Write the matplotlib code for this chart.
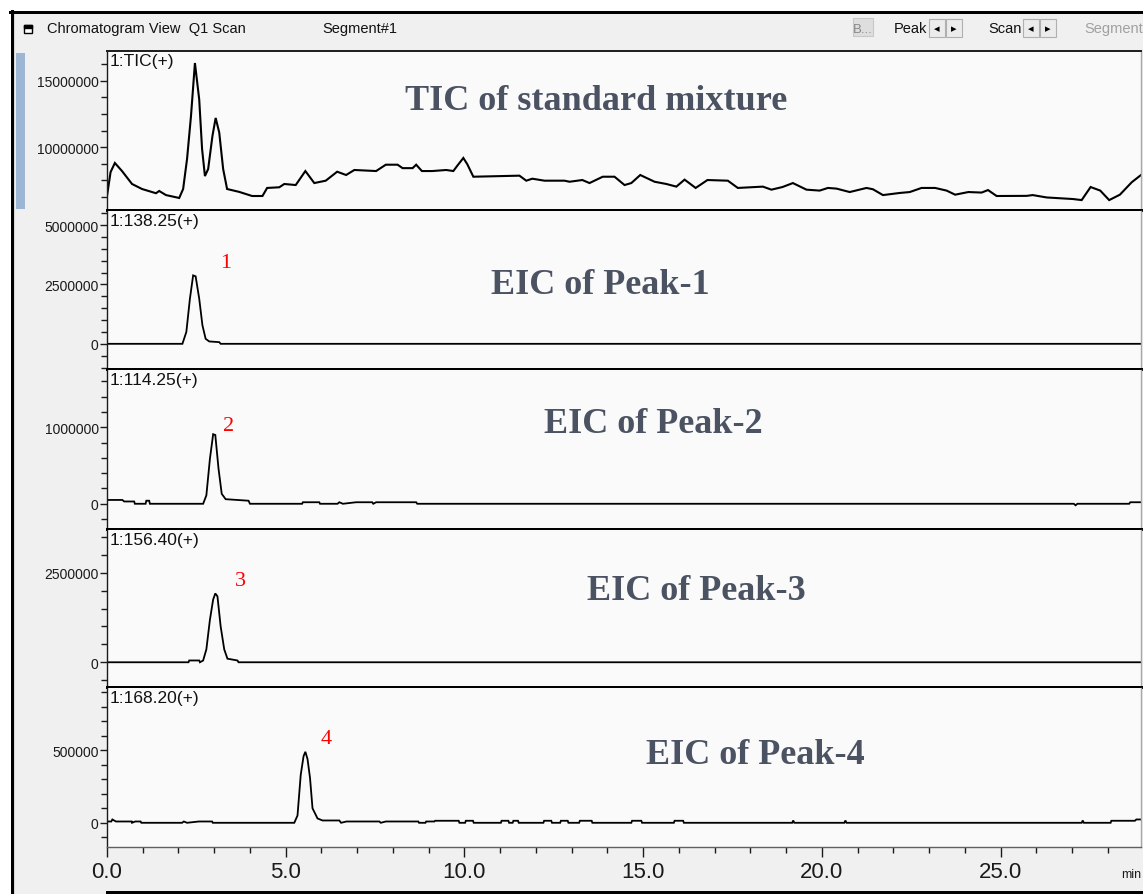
import matplotlib
matplotlib.use('Agg')
import matplotlib.pyplot as plt
from matplotlib.patches import Rectangle
from matplotlib.lines import Line2D
from matplotlib.ticker import MultipleLocator, FixedLocator


W, H = 1143, 895
SANS = ['Liberation Sans', 'DejaVu Sans']
SERIF = ['Liberation Serif', 'DejaVu Serif']
TITLE_COLOR = '#4b5362'
GRAY_BG = '#f0f0f0'

# --- data (time in min, intensity in millions of counts) ---
tic_points = [
    (0.0, 6.29), (0.1, 8.1), (0.22, 8.79), (0.42, 8.18), (0.7, 7.2), (0.98, 6.82),
    (1.37, 6.5), (1.46, 6.67), (1.65, 6.36), (2.02, 6.14), (2.13, 6.82), (2.24, 9.1),
    (2.35, 12.35), (2.46, 16.36), (2.58, 13.6), (2.66, 9.85), (2.74, 7.8), (2.83, 8.33),
    (2.95, 10.83), (3.04, 12.2), (3.14, 11.1), (3.25, 8.33), (3.36, 6.82), (3.7, 6.6),
    (4.06, 6.29), (4.35, 6.29), (4.48, 6.9), (4.82, 6.95), (4.96, 7.2), (5.28, 7.12),
    (5.55, 8.18), (5.8, 7.27), (6.12, 7.45), (6.44, 8.13), (6.69, 7.88), (6.92, 8.26),
    (7.53, 8.18), (7.8, 8.66), (8.13, 8.66), (8.27, 8.4), (8.55, 8.4), (8.65, 8.66),
    (8.81, 8.18), (9.1, 8.18), (9.49, 8.26), (9.69, 8.18), (9.8, 8.58), (9.97, 9.17),
    (10.08, 8.7), (10.25, 7.75), (11.54, 7.83), (11.73, 7.45), (11.9, 7.6), (12.24, 7.45),
    (12.8, 7.45), (12.94, 7.37), (13.3, 7.5), (13.5, 7.27), (13.87, 7.75), (14.2, 7.75),
    (14.48, 7.12), (14.67, 7.27), (14.92, 7.88), (15.32, 7.37), (15.65, 7.2), (15.93, 7.0),
    (16.16, 7.53), (16.47, 6.9), (16.8, 7.5), (17.37, 7.45), (17.65, 6.9), (18.35, 7.0),
    (18.59, 6.77), (18.9, 6.97), (19.19, 7.27), (19.57, 6.77), (19.94, 6.7), (20.17, 6.9),
    (20.41, 6.85), (20.78, 6.59), (21.25, 6.9), (21.43, 6.8), (21.71, 6.36), (22.18, 6.52),
    (22.46, 6.59), (22.79, 6.9), (23.17, 6.9), (23.49, 6.7), (23.73, 6.39), (24.1, 6.59),
    (24.47, 6.55), (24.65, 6.74), (24.89, 6.29), (25.73, 6.3), (25.9, 6.36), (26.29, 6.18),
    (27.03, 6.06), (27.27, 5.98), (27.52, 6.97), (27.79, 6.7), (28.04, 5.98), (28.34, 6.39),
    (28.67, 7.33), (28.93, 7.88),
]

eic1_points = [
    (0.0, 0.0), (2.11, 0.0), (2.22, 0.5), (2.32, 1.9), (2.41, 2.88), (2.48, 2.84),
    (2.58, 1.9), (2.67, 0.78), (2.76, 0.21), (2.86, 0.1), (3.14, 0.07), (3.18, 0.0),
    (28.93, 0.0),
]

eic2_points = [
    (0.0, 0.05), (0.43, 0.05), (0.48, 0.03), (0.76, 0.03), (0.78, 0.0), (1.08, 0.0),
    (1.1, 0.04), (1.18, 0.04), (1.2, 0.0), (2.69, 0.0), (2.78, 0.11), (2.88, 0.59),
    (2.97, 0.91), (3.03, 0.9), (3.12, 0.46), (3.21, 0.13), (3.32, 0.06), (3.96, 0.04),
    (4.0, 0.0), (5.46, 0.0), (5.48, 0.02), (5.94, 0.02), (5.96, 0.0), (6.45, 0.0),
    (6.5, 0.02), (6.6, 0.0), (6.97, 0.02), (7.42, 0.02), (7.45, 0.0), (7.53, 0.02),
    (8.65, 0.02), (8.68, 0.0), (27.05, 0.0), (27.1, -0.02), (27.15, 0.0), (28.6, 0.0),
    (28.63, 0.02), (28.93, 0.02),
]

eic3_points = [
    (0.0, 0.0), (2.28, 0.0), (2.3, 0.05), (2.58, 0.05), (2.6, 0.0), (2.69, 0.05),
    (2.78, 0.36), (2.88, 1.19), (2.97, 1.75), (3.03, 1.92), (3.09, 1.84), (3.18, 1.0),
    (3.28, 0.36), (3.37, 0.1), (3.65, 0.05), (3.68, 0.0), (28.93, 0.0),
]

eic4_points = [
    (0.0, 0.009), (0.12, 0.009), (0.15, 0.023), (0.25, 0.009), (0.69, 0.009), (0.7, 0.0),
    (0.79, 0.009), (0.94, 0.009), (0.96, 0.0), (2.1, 0.0), (2.15, 0.009), (2.24, 0.0),
    (2.57, 0.009), (2.94, 0.009), (2.96, 0.0), (5.24, 0.0), (5.33, 0.05), (5.42, 0.33),
    (5.5, 0.46), (5.55, 0.49), (5.61, 0.44), (5.68, 0.31), (5.75, 0.1), (5.89, 0.03),
    (6.03, 0.016), (6.5, 0.016), (6.55, 0.0), (6.7, 0.009), (7.62, 0.009), (7.66, 0.0),
    (7.8, 0.009), (8.71, 0.009), (8.73, 0.0), (8.91, 0.0), (8.93, 0.009), (9.16, 0.009),
    (9.18, 0.014), (9.84, 0.014), (9.86, 0.0), (10.02, 0.0), (10.04, 0.014), (10.24, 0.014),
    (10.26, 0.0), (11.02, 0.0), (11.04, 0.014), (11.23, 0.014), (11.25, 0.0), (11.35, 0.0),
    (11.37, 0.014), (11.5, 0.014), (11.52, 0.0), (12.21, 0.0), (12.23, 0.014), (12.43, 0.014),
    (12.45, 0.0), (12.68, 0.0), (12.7, 0.014), (12.89, 0.014), (12.91, 0.0), (13.21, 0.0),
    (13.23, 0.014), (13.56, 0.014), (13.58, 0.0), (14.67, 0.0), (14.69, 0.014), (14.95, 0.014),
    (14.97, 0.0), (15.86, 0.0), (15.88, 0.014), (16.12, 0.014), (16.14, 0.0), (19.17, 0.0),
    (19.2, 0.016), (19.23, 0.0), (20.63, 0.0), (20.66, 0.016), (20.69, 0.0), (27.27, 0.0),
    (27.3, 0.016), (27.33, 0.0), (28.08, 0.0), (28.1, 0.014), (28.76, 0.014), (28.8, 0.023),
    (28.93, 0.023),
]

traces = [tic_points, eic1_points, eic2_points, eic3_points, eic4_points]
trace_names = ['1:TIC(+)', '1:138.25(+)', '1:114.25(+)', '1:156.40(+)', '1:168.20(+)']
titles = ['TIC of standard mixture', 'EIC of Peak-1', 'EIC of Peak-2',
          'EIC of Peak-3', 'EIC of Peak-4']
peak_labels = ['', '1', '2', '3', '4']

# y axis ranges and ticks (millions)
y_ranges = [(5.23, 17.27), (-1.06, 5.59), (-0.33, 1.75), (-0.69, 3.69), (-0.167, 0.93)]
y_major = [[10.0, 15.0], [0.0, 2.5, 5.0], [0.0, 1.0], [0.0, 2.5], [0.0, 0.5]]
y_minor = [1.25, 0.5, 0.2, 0.5, 0.1]

x_max = 28.93
x_ticks = [0, 5, 10, 15, 20, 25]

# --- layout, in pixels of the 1143x895 screenshot ---
panel_px = [(52, 211), (212, 370), (371, 530), (531, 688), (689, 848)]
title_px = [(596, 102), (600, 286), (653, 425), (696, 592), (755, 755)]
peak_px = [None, (226, 264), (229, 427), (240, 582), (326, 740)]
PLOT_LEFT, PLOT_RIGHT = 107, 1141


def fx(px):
    return px / W


def fy(py):
    return 1 - py / H


def px2pt(px):
    return px * 0.72


fig = plt.figure(figsize=(W / 100, H / 100), dpi=100)
fig.patch.set_facecolor('white')

# window background and frame
fig.patches.append(Rectangle((fx(12), 0), fx(W - 12), fy(12), transform=fig.transFigure,
                             facecolor=GRAY_BG, edgecolor='none', zorder=-10))
fig.lines.append(Line2D([fx(10), 1], [fy(13), fy(13)], transform=fig.transFigure,
                        color='black', lw=px2pt(3), zorder=5))
fig.lines.append(Line2D([fx(11.5), fx(11.5)], [0, fy(12)], transform=fig.transFigure,
                        color='black', lw=px2pt(3), zorder=5))
fig.lines.append(Line2D([fx(14), fx(14)], [0, fy(15)], transform=fig.transFigure,
                        color='#d8d8d8', lw=px2pt(1), zorder=-5))
fig.patches.append(Rectangle((fx(16), fy(210)), fx(9), fy(54) - fy(210),
                             transform=fig.transFigure, facecolor='#9db6d3',
                             edgecolor='none', zorder=-5))

# header bar
fig.patches.append(Rectangle((fx(24), fy(34)), fx(8), fy(26) - fy(34), transform=fig.transFigure,
                             facecolor='white', edgecolor='black', lw=1, zorder=-5))
fig.patches.append(Rectangle((fx(24), fy(29)), fx(8), fy(26) - fy(29), transform=fig.transFigure,
                             facecolor='black', edgecolor='black', lw=1, zorder=-5))
fig.text(fx(47), fy(29), 'Chromatogram View  Q1 Scan', family=SANS, fontsize=10.5,
         va='center', color='#111111')
fig.text(fx(322), fy(29), 'Segment#1', family=SANS, fontsize=10.5, va='center',
         color='#111111')
fig.patches.append(Rectangle((fx(853), fy(37)), fx(20), fy(19) - fy(37), transform=fig.transFigure,
                             facecolor='#dedede', edgecolor='#c8c8c8', lw=0.8, zorder=-5))
fig.text(fx(863), fy(30), 'B...', family=SANS, fontsize=9.5, va='center', ha='center',
         color='#888888')
for label, x0 in [('Peak', 894), ('Scan', 988)]:
    fig.text(fx(x0), fy(29), label, family=SANS, fontsize=10.5, va='center', color='#111111')
    for k, arrow in enumerate(['\u25c2', '\u25b8']):
        bx = x0 + 35 + k * 17
        fig.patches.append(Rectangle((fx(bx), fy(38)), fx(16), fy(20) - fy(38),
                                     transform=fig.transFigure, facecolor='#ececec',
                                     edgecolor='#b0b0b0', lw=0.8, zorder=-5))
        fig.text(fx(bx + 8), fy(29), arrow, family=['DejaVu Sans'], fontsize=8,
                 ha='center', va='center', color='black')
fig.text(fx(1084), fy(29), 'Segment', family=SANS, fontsize=10.5, va='center',
         color='#a0a0a0')

# panels
axes = []
for i, pts in enumerate(traces):
    top, bottom = panel_px[i]
    ax = fig.add_axes([fx(PLOT_LEFT), fy(bottom), fx(PLOT_RIGHT - PLOT_LEFT),
                       fy(top) - fy(bottom)])
    ax.set_zorder(2)
    ax.set_facecolor('#fafafa')
    t = [p[0] for p in pts]
    v = [p[1] * 1e6 for p in pts]
    ax.plot(t, v, color='black', lw=1.5 if i == 0 else 1.3, solid_joinstyle='miter')
    ax.set_xlim(0, x_max)
    lo, hi = y_ranges[i]
    ax.set_ylim(lo * 1e6, hi * 1e6)

    ax.yaxis.set_major_locator(FixedLocator([m * 1e6 for m in y_major[i]]))
    ax.set_yticklabels([f'{m * 1e6:.0f}' for m in y_major[i]])
    ax.yaxis.set_minor_locator(MultipleLocator(y_minor[i] * 1e6))
    ax.tick_params(axis='y', which='major', direction='out', length=5, width=1,
                   labelsize=10, pad=1, colors='#1a1a1a')
    ax.tick_params(axis='y', which='minor', direction='out', length=4, width=1,
                   colors='#1a1a1a')
    for lab in ax.get_yticklabels():
        lab.set_family(SANS)

    ax.spines['left'].set_linewidth(1)
    ax.spines['left'].set_color('#1a1a1a')
    ax.spines['right'].set_color('#a8a8a8')
    ax.spines['right'].set_linewidth(1)
    if i == 0:
        ax.spines['top'].set_color('#222222')
        ax.spines['top'].set_linewidth(px2pt(2))
    else:
        ax.spines['top'].set_visible(False)
    if i < len(traces) - 1:
        ax.spines['bottom'].set_linewidth(px2pt(3))
        ax.spines['bottom'].set_color('black')
        ax.tick_params(axis='x', which='both', bottom=False, labelbottom=False)
    else:
        ax.spines['bottom'].set_linewidth(1)
        ax.spines['bottom'].set_color('#606060')
        ax.set_xticks(x_ticks)
        ax.set_xticklabels([f'{x:.1f}' for x in x_ticks])
        ax.xaxis.set_minor_locator(MultipleLocator(1))
        ax.tick_params(axis='x', which='major', direction='out', length=7, width=1,
                       labelsize=16, pad=3, colors='#1a1a1a')
        ax.tick_params(axis='x', which='minor', direction='out', length=4, width=1,
                       colors='#1a1a1a')
        for lab in ax.get_xticklabels():
            lab.set_family(SANS)

    ax.text(0.003, 0.99, trace_names[i], transform=ax.transAxes, family=SANS,
            fontsize=12.5, va='top', ha='left', color='#111111')
    tx, ty = title_px[i]
    fig.text(fx(tx), fy(ty), titles[i], family=SERIF, fontsize=26, fontweight='bold',
             ha='center', va='center', color=TITLE_COLOR, zorder=5)
    if peak_px[i] is not None:
        px_, py_ = peak_px[i]
        fig.text(fx(px_), fy(py_), peak_labels[i], family=SERIF, fontsize=16,
                 ha='center', va='center', color='#ff0000', zorder=5)
    axes.append(ax)

fig.text(fx(1141), fy(875), 'min', family=SANS, fontsize=9, va='center', ha='right',
         color='#1a1a1a')
fig.lines.append(Line2D([fx(PLOT_LEFT), 1], [fy(893), fy(893)], transform=fig.transFigure,
                        color='black', lw=px2pt(3), zorder=5))

fig.savefig('out.png', dpi=100, facecolor=fig.get_facecolor())
